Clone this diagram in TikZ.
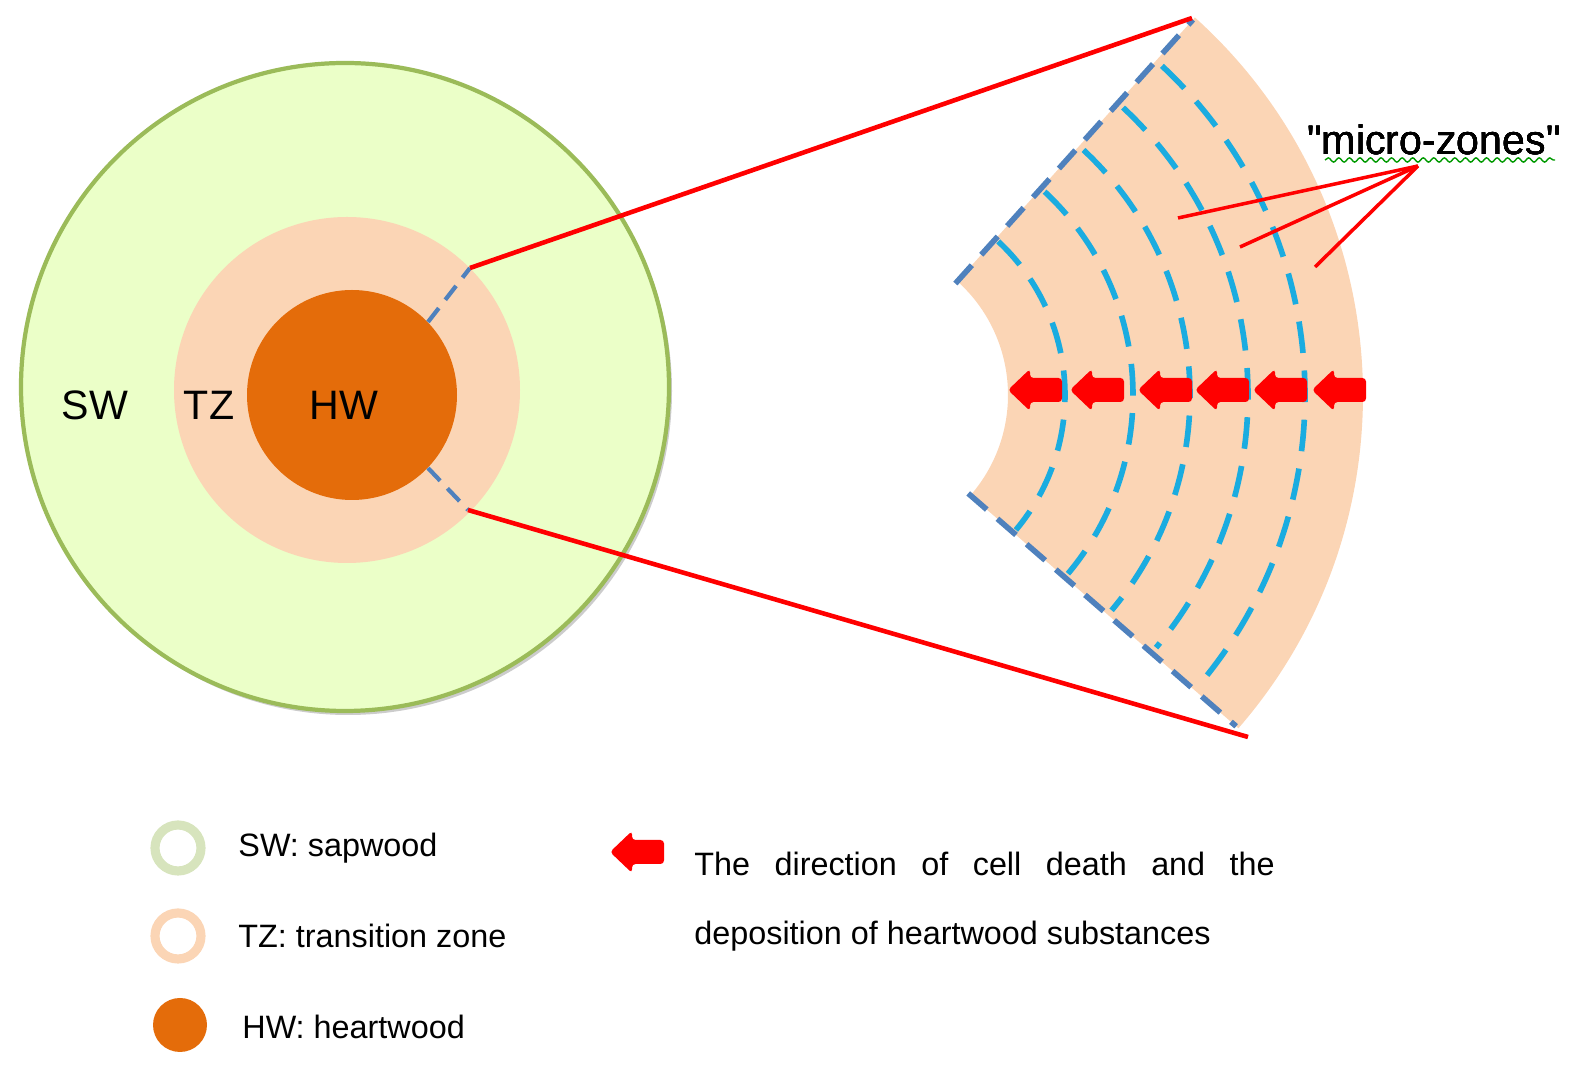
\documentclass[tikz,border=0pt]{standalone}
\usepackage{fontspec}
\setmainfont{Liberation Sans}
\usetikzlibrary{arrows.meta}
\usetikzlibrary{positioning}
\usetikzlibrary{decorations.pathmorphing}
\definecolor{swfill}{HTML}{EBFFC8}
\definecolor{swline}{HTML}{9BBB59}
\definecolor{swring}{HTML}{D7E4BD}
\definecolor{tzfill}{HTML}{FBD5B5}
\definecolor{hwfill}{HTML}{E46C0A}
\definecolor{edge}{HTML}{4F81BD}
\definecolor{ring}{HTML}{1AACE0}
\tikzset{
  zoomline/.style={red, line width=1.3pt},
  bigtext/.style={font=\fontsize{11.7}{14}\selectfont},
  legtext/.style={font=\fontsize{9.2}{12}\selectfont, anchor=west},
  edgedash/.style={edge, line width=1.6pt, dash pattern=on 7pt off 4pt},
  ringdash/.style={ring, line width=1.6pt, dash pattern=on 9pt off 5pt},
}
% red block arrow pointing left, tip at given point
\newcommand{\deatharrow}[1]{%
  \fill[red, rounded corners=1pt] (#1) -- ++(22,-21) -- ++(0,9) -- ++(32,0)
    -- ++(0,24) -- ++(-32,0) -- ++(0,9) -- cycle;}
\begin{document}
\begin{tikzpicture}[x=0.01cm, y=-0.01cm]
  \useasboundingbox (0,0) rectangle (1587,1083);
  % stem cross-section
  \fill[black!20] (348,391) circle (324);
  \draw[swline, fill=swfill, line width=1.2pt] (345,387) circle (324);
  \fill[tzfill] (347,390) circle (173);
  \fill[hwfill] (352,395) circle (105);
  \node[bigtext] (sw) at (95,405) {SW};
  \node[bigtext] (tz) at (209,405) {TZ};
  \node[bigtext] (hw) at (344,405) {HW};
  % zoom lines
  \coordinate (ztop) at (470,268);
  \coordinate (zbot) at (468,510);
  \coordinate (ctop) at (1192,18);
  \coordinate (cbot) at (1248,737);
  \draw[edgedash, line width=1.2pt, dash pattern=on 5pt off 3pt] (428,322) -- (ztop);
  \draw[edgedash, line width=1.2pt, dash pattern=on 5pt off 3pt] (428,468) -- (zbot);
  % sector
  \begin{scope}[shift={(855,395)}, yscale=-1]
    \fill[tzfill] (48:153) arc[start angle=48, end angle=-41, radius=153]
      -- (-41:508) arc[start angle=-41, end angle=48, radius=508] -- cycle;
    \foreach \r in {210,278,335,393,450}
      \draw[ringdash] (47:\r) arc[start angle=47, end angle=-40, radius=\r];
    \draw[edgedash] (48:150) -- (48:505);
    \draw[edgedash] (-41:150) -- (-41:505);
  \end{scope}
  \draw[zoomline] (ztop) -- (ctop);
  \draw[zoomline] (zbot) -- (cbot);
  % arrows
  \foreach \x in {1008,1070,1138,1195,1253,1312}
    \deatharrow{\x,390}
  % micro-zones
  \node[bigtext] (mz) at (1434,140) {\textquotedbl micro-zones\textquotedbl};
  \draw[green!60!black, decorate, decoration={snake, amplitude=0.6pt, segment length=3pt}]
    (1325,160) -- (1555,160);
  \coordinate (mzp) at (1418,166);
  \draw[zoomline, line width=1pt] (mzp) -- (1178,218);
  \draw[zoomline, line width=1pt] (mzp) -- (1240,247);
  \draw[zoomline, line width=1pt] (mzp) -- (1315,267);
  % legend
  \draw[swring, line width=2.6pt] (178,848) circle (23);
  \draw[tzfill, line width=2.6pt] (178,936) circle (23);
  \fill[hwfill] (180,1025) circle (27);
  \node[legtext] (lsw) at (226,848) {SW: sapwood};
  \node[legtext] (ltz) at (226,936) {TZ: transition zone};
  \node[legtext] (lhw) at (230,1027) {HW: heartwood};
  \deatharrow{610,852}
  \node[legtext, anchor=north west, text width=5.8cm, align=justify,
    font=\fontsize{9.2}{19.5}\selectfont] (ldir) at (682,840)
    {The direction of cell death and the\linebreak deposition of heartwood substances};
\end{tikzpicture}
\end{document}
